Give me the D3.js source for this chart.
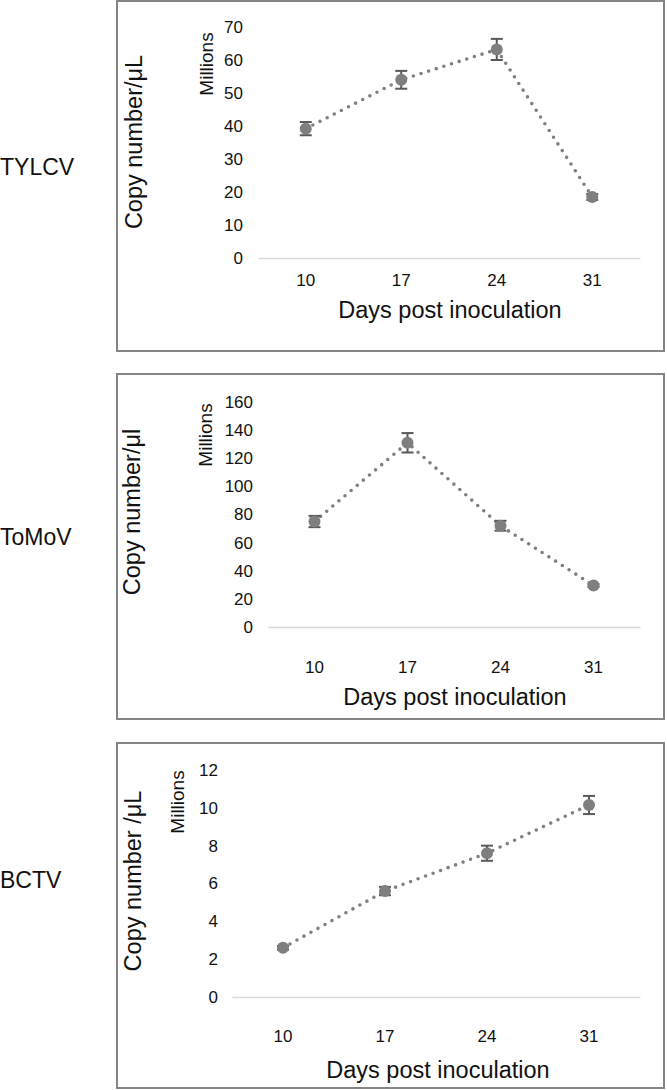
<!DOCTYPE html>
<html><head><meta charset="utf-8">
<script src="https://cdn.jsdelivr.net/npm/d3@7"></script>
<style>body{margin:0;background:#fff}svg{display:block}text{font-family:"Liberation Sans",Arial,sans-serif}</style>
</head><body>
<script>
const days = ["10", "17", "24", "31"];
const virusNames = ["TYLCV", "ToMoV", "BCTV"];
const yTitles = ["Copy number/μL", "Copy number/μl", "Copy number /μL"];
const tylcvValues = [39.2, 54, 63.2, 18.5];
const tylcvErrors = [2, 2.7, 3.2, 0.9];
const tomovValues = [75, 131, 72, 29.5];
const tomovErrors = [4, 6.9, 3.5, 1];
const bctvValues = [2.6, 5.6, 7.6, 10.15];
const bctvErrors = [0.1, 0.22, 0.4, 0.48];
const tylcvTicks = [0, 10, 20, 30, 40, 50, 60, 70];
const tomovTicks = [0, 20, 40, 60, 80, 100, 120, 140, 160];
const bctvTicks = [0, 2, 4, 6, 8, 10, 12];

const panels = [
  {name: virusNames[0], ytitle: yTitles[0], vals: tylcvValues, errs: tylcvErrors, ticks: tylcvTicks,
   box: [117, 1, 664, 351], plot: {x0: 258, x1: 640, yTop: 27, yBot: 258}, labelY: 167, ytX: 134, ytY: 142, milX: 206, milY: 64, tickX: 243, xlabY: 280, xtitleY: 310, xtitleX: 450},
  {name: virusNames[1], ytitle: yTitles[1], vals: tomovValues, errs: tomovErrors, ticks: tomovTicks,
   box: [117, 374, 664, 719], plot: {x0: 268, x1: 640, yTop: 402, yBot: 627}, labelY: 537, ytX: 132, ytY: 512, milX: 205, milY: 435, tickX: 253, xlabY: 667, xtitleY: 697, xtitleX: 455},
  {name: virusNames[2], ytitle: yTitles[2], vals: bctvValues, errs: bctvErrors, ticks: bctvTicks,
   box: [117, 743, 664, 1088], plot: {x0: 232, x1: 640, yTop: 770, yBot: 997}, labelY: 880, ytX: 133, ytY: 881, milX: 177, milY: 802, tickX: 218, xlabY: 1036, xtitleY: 1070, xtitleX: 438}
];

const svg = d3.select("body").append("svg").attr("width", 667).attr("height", 1090);

panels.forEach(p => {
  svg.append("rect").attr("x", p.box[0]).attr("y", p.box[1])
    .attr("width", p.box[2] - p.box[0]).attr("height", p.box[3] - p.box[1])
    .attr("fill", "#fff").attr("stroke", "#858585").attr("stroke-width", 2);

  svg.append("text").attr("x", 0).attr("y", p.labelY).attr("dy", "0.35em")
    .attr("font-size", 23).attr("fill", "#111").text(p.name);

  svg.append("text").attr("transform", `translate(${p.ytX},${p.ytY}) rotate(-90)`)
    .attr("text-anchor", "middle").attr("dy", "0.35em").attr("font-size", 23.5).attr("fill", "#111").text(p.ytitle);

  svg.append("text").attr("transform", `translate(${p.milX},${p.milY}) rotate(-90)`)
    .attr("text-anchor", "middle").attr("dy", "0.35em").attr("font-size", 19).attr("fill", "#111").text("Millions");

  const x = d3.scaleBand().domain(days).range([p.plot.x0, p.plot.x1]);
  const y = d3.scaleLinear().domain([0, d3.max(p.ticks)]).range([p.plot.yBot, p.plot.yTop]);

  const ya = svg.append("g").attr("transform", `translate(${p.tickX},0)`)
    .call(d3.axisLeft(y).tickValues(p.ticks).tickSize(0).tickPadding(0).tickFormat(d3.format("d")));
  ya.select(".domain").remove();
  ya.selectAll("text").attr("font-size", 17).attr("fill", "#111").attr("font-family", "Liberation Sans, Arial, sans-serif");

  const xa = svg.append("g").attr("transform", `translate(0,${p.plot.yBot})`)
    .call(d3.axisBottom(x).tickSize(0).tickPadding(0));
  xa.select(".domain").attr("stroke", "#d9d9d9").attr("stroke-width", 1.5);
  xa.selectAll("text").attr("font-size", 17).attr("fill", "#111").attr("font-family", "Liberation Sans, Arial, sans-serif")
    .attr("y", p.xlabY - p.plot.yBot).attr("dy", "0.35em");

  svg.append("text").attr("x", p.xtitleX).attr("y", p.xtitleY).attr("dy", "0.35em")
    .attr("text-anchor", "middle").attr("font-size", 23.5).attr("fill", "#111").text("Days post inoculation");

  const cx = d => x(d) + x.bandwidth() / 2;
  const line = d3.line().x((d, i) => cx(days[i])).y(d => y(d));
  svg.append("path").datum(p.vals).attr("d", line).attr("fill", "none")
    .attr("stroke", "#808080").attr("stroke-width", 3.6).attr("stroke-linecap", "round")
    .attr("stroke-dasharray", "0 8");

  const g = svg.append("g");
  p.vals.forEach((v, i) => {
    const xx = cx(days[i]), e = p.errs[i];
    g.append("line").attr("x1", xx).attr("x2", xx).attr("y1", y(v + e)).attr("y2", y(v - e))
      .attr("stroke", "#595959").attr("stroke-width", 2);
    [v + e, v - e].forEach(w => g.append("line").attr("x1", xx - 6).attr("x2", xx + 6)
      .attr("y1", y(w)).attr("y2", y(w)).attr("stroke", "#595959").attr("stroke-width", 2));
    g.append("circle").attr("cx", xx).attr("cy", y(v)).attr("r", 6).attr("fill", "#7f7f7f");
  });
});
</script>
</body></html>
